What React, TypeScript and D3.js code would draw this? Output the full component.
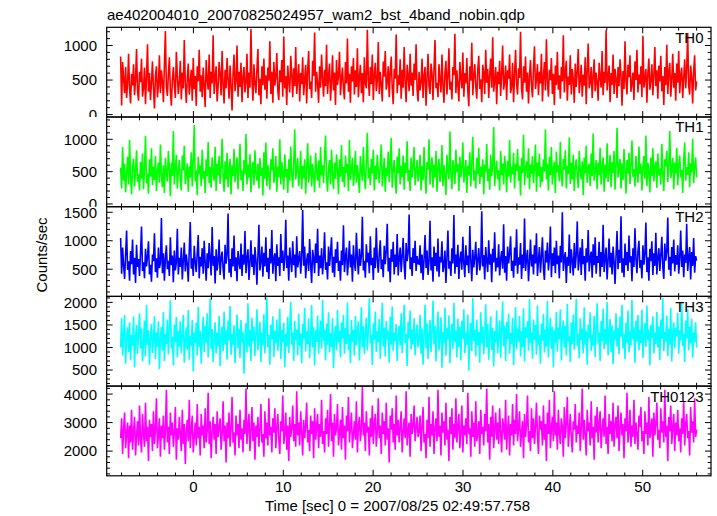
import React from "react";
import * as d3 from "d3";

const TITLE = "ae402004010_20070825024957_wam2_bst_4band_nobin.qdp";
const X_LABEL = "Time [sec] 0 = 2007/08/25 02:49:57.758";
const Y_LABEL = "Counts/sec";

// time bins (sec) of the light curves
const BIN_START = -8.1;
const BIN_WIDTH = 0.11071;

const X_MAJOR_TICKS = [0, 10, 20, 30, 40, 50];

const TH0 = [
  840, 130, 760, 520, 310, 690, 240, 450, 880, 370, 160, 590, 420, 730, 280, 510, 950, 340, 200, 620,
  470, 810, 260, 390, 680, 150, 540, 1020, 330, 600, 210, 460, 770, 380, 90, 560, 700, 250, 430, 860,
  310, 640, 480, 180, 720, 1210, 400, 270, 590, 830, 350, 130, 500, 690, 420, 240, 910, 560, 300, 470,
  780, 220, 610, 380, 1080, 450, 170, 530, 740, 290, 460, 650, 200, 820, 370, 560, 130, 700, 480, 940,
  330, 570, 250, 680, 420, 110, 790, 510, 360, 870, 240, 620, 450, 1150, 300, 530, 700, 190, 410, 760,
  580, 280, 920, 440, 160, 650, 380, 820, 500, 230, 710, 430, 60, 590, 870, 340, 480, 1000, 260, 620,
  400, 750, 180, 550, 690, 320, 470, 880, 240, 610, 390, 1240, 510, 200, 730, 450, 310, 660, 950, 280,
  520, 150, 700, 430, 810, 360, 570, 230, 680, 490, 1060, 300, 620, 170, 760, 420, 540, 890, 350, 210,
  640, 470, 790, 260, 1130, 380, 560, 140, 710, 480, 320, 850, 590, 250, 670, 410, 980, 300, 520, 730,
  190, 600, 440, 830, 280, 510, 720, 160, 640, 920, 370, 480, 240, 780, 560, 1190, 330, 620, 450, 170,
  700, 390, 870, 520, 260, 650, 410, 1010, 300, 560, 740, 200, 480, 860, 350, 610, 140, 790, 430, 560,
  910, 280, 510, 680, 370, 220, 760, 450, 1100, 330, 590, 170, 700, 480, 820, 290, 640, 400, 960, 250,
  540, 720, 310, 600, 180, 830, 460, 380, 1230, 520, 270, 690, 440, 870, 210, 580, 750, 340, 490, 1050,
  300, 620, 430, 190, 770, 550, 920, 360, 480, 700, 250, 610, 840, 390, 150, 660, 520, 1160, 310, 570,
  430, 800, 230, 650, 390, 980, 470, 180, 720, 560, 340, 880, 420, 610, 270, 740, 500, 1020, 360, 190,
  620, 350, 470, 810, 240, 560, 690, 130, 520, 880, 410, 300, 740, 590, 210, 660, 1080, 380, 460, 250,
  730, 500, 320, 870, 440, 170, 610, 780, 290, 540, 960, 360, 480, 220, 690, 570, 1170, 310, 640, 420,
  190, 760, 530, 380, 900, 260, 600, 450, 820, 340, 120, 700, 490, 1040, 280, 560, 730, 410, 230, 650,
  850, 370, 510, 180, 720, 600, 300, 940, 460, 660, 240, 570, 810, 390, 1120, 330, 500, 690, 150, 620,
  440, 780, 270, 590, 1000, 360, 480, 710, 210, 640, 520, 870, 310, 400, 750, 180, 580, 940, 450, 290,
  670, 530, 1200, 380, 220, 700, 460, 840, 330, 610, 160, 560, 790, 420, 250, 680, 990, 370, 510, 730,
  280, 620, 450, 880, 190, 540, 760, 350, 1090, 470, 260, 650, 500, 820, 300, 590, 140, 710, 430, 910,
  360, 570, 230, 690, 480, 1150, 320, 610, 780, 200, 550, 430, 860, 290, 660, 510, 170, 740, 400, 620,
  950, 310, 500, 720, 260, 580, 420, 830, 150, 640, 1030, 380, 470, 690, 240, 560, 800, 340, 610, 470,
  200, 750, 530, 390, 920, 280, 620, 460, 1220, 350, 540, 710, 180, 600, 430, 870, 300, 660, 520, 240,
  690, 410, 800, 560, 130, 630, 370, 1060, 480, 290, 720, 540, 860, 330, 450, 610, 210, 770, 500, 940,
  320, 580, 440, 700, 250, 1140, 390, 520, 660, 170, 600, 810, 360, 490, 730, 280, 570, 980, 410, 640,
  230, 710, 480, 850, 340, 560, 140, 690, 430, 1010, 300, 620, 750, 260, 510, 880, 390, 600, 200, 740,
  460, 920, 310, 570, 680, 240, 530, 800, 380, 650, 1180, 420, 290, 710, 550, 160, 630, 860, 350, 480,
];

const TH1 = [
  560, 240, 880, 360, 620, 180, 470, 730, 300, 990, 410, 150, 590, 700, 270, 520, 830, 340, 460, 210,
  650, 390, 780, 230, 540, 1050, 320, 470, 160, 690, 420, 860, 290, 580, 370, 740, 200, 510, 640, 330,
  920, 450, 260, 600, 170, 710, 480, 350, 820, 560, 120, 640, 430, 1130, 300, 560, 760, 240, 490, 680,
  380, 210, 750, 520, 900, 310, 460, 630, 190, 580, 410, 800, 270, 670, 1220, 350, 520, 140, 730, 460,
  600, 280, 840, 390, 510, 170, 690, 430, 960, 320, 570, 250, 720, 480, 360, 880, 200, 620, 450, 740,
  310, 550, 1010, 420, 190, 660, 380, 790, 260, 530, 700, 150, 600, 430, 850, 340, 490, 720, 230, 580,
  930, 370, 520, 200, 680, 460, 1080, 300, 610, 410, 770, 180, 540, 650, 290, 830, 470, 360, 620, 240,
  710, 440, 560, 130, 800, 390, 950, 280, 600, 470, 220, 690, 520, 860, 330, 450, 740, 190, 580, 410,
  1000, 300, 650, 480, 220, 770, 420, 540, 170, 690, 360, 890, 460, 250, 620, 1150, 380, 530, 710, 280,
  470, 820, 230, 590, 400, 690, 160, 560, 940, 330, 480, 750, 270, 620, 440, 180, 790, 510, 360, 670,
  250, 880, 440, 600, 320, 730, 1060, 410, 190, 560, 680, 300, 840, 470, 230, 640, 390, 770, 520, 150,
  690, 420, 910, 340, 570, 260, 750, 480, 620, 200, 990, 370, 530, 710, 280, 460, 820, 330, 600, 420,
  170, 740, 520, 360, 880, 450, 230, 650, 1100, 400, 560, 290, 700, 470, 840, 210, 590, 380, 760, 500,
  320, 630, 920, 270, 480, 710, 190, 560, 430, 810, 340, 650, 1020, 250, 520, 680, 380, 160, 730, 470,
  860, 300, 590, 420, 750, 220, 640, 480, 970, 350, 530, 200, 720, 410, 610, 880, 290, 500, 680, 350,
  480, 760, 210, 590, 370, 880, 440, 160, 650, 530, 1000, 300, 560, 720, 250, 610, 410, 820, 190, 540,
  700, 340, 470, 910, 280, 600, 430, 140, 760, 520, 380, 1120, 460, 230, 680, 570, 310, 840, 490, 620,
  200, 730, 410, 560, 950, 330, 500, 680, 170, 590, 440, 800, 270, 640, 1040, 360, 520, 240, 710, 460,
  870, 310, 580, 420, 690, 150, 610, 490, 930, 350, 550, 220, 760, 430, 600, 1190, 280, 530, 670, 380,
  520, 210, 820, 450, 630, 300, 740, 560, 180, 670, 420, 990, 330, 580, 460, 790, 240, 620, 510, 850,
  360, 590, 130, 710, 480, 1070, 290, 540, 660, 400, 860, 230, 610, 470, 740, 320, 560, 920, 190, 640,
  430, 780, 260, 570, 340, 690, 500, 1150, 380, 620, 210, 730, 450, 880, 300, 550, 650, 170, 810, 490,
  600, 350, 960, 420, 270, 700, 530, 830, 240, 590, 460, 1030, 310, 640, 380, 760, 200, 570, 690, 440,
  250, 820, 510, 380, 660, 140, 720, 470, 900, 330, 560, 620, 280, 780, 430, 1090, 360, 510, 680, 230,
  640, 450, 870, 300, 580, 720, 190, 610, 400, 940, 340, 530, 760, 260, 650, 480, 820, 220, 590, 1180,
  410, 560, 700, 240, 630, 370, 850, 520, 160, 680, 470, 790, 310, 600, 980, 420, 540, 270, 740, 500,
  330, 890, 460, 620, 210, 570, 740, 390, 1060, 280, 640, 500, 180, 720, 430, 860, 350, 590, 660, 250,
  780, 440, 550, 300, 930, 480, 200, 690, 580, 820, 340, 610, 1130, 400, 520, 710, 230, 640, 470, 870,
  290, 600, 750, 410, 530, 170, 680, 950, 360, 570, 450, 800, 260, 630, 490, 1010, 320, 580, 720, 410,
];

const TH2 = [
  1050, 420, 880, 560, 330, 760, 1180, 490, 640, 300, 820, 590, 1020, 410, 700, 260, 930, 540, 680, 380,
  790, 1250, 470, 620, 340, 860, 550, 720, 990, 410, 580, 280, 760, 640, 1130, 450, 690, 350, 880, 520,
  610, 1400, 430, 780, 300, 690, 920, 500, 650, 380, 1060, 570, 740, 270, 830, 480, 620, 1210, 410, 700,
  540, 880, 320, 650, 970, 460, 760, 590, 280, 840, 1330, 510, 690, 380, 910, 620, 450, 780, 1100, 340,
  720, 550, 870, 420, 1000, 610, 300, 780, 520, 960, 670, 390, 1240, 560, 730, 250, 850, 480, 640, 1020,
  400, 690, 810, 510, 320, 930, 600, 750, 1480, 440, 680, 360, 870, 550, 1090, 470, 710, 290, 820, 620,
  500, 950, 380, 760, 580, 1170, 430, 690, 850, 310, 620, 1010, 540, 760, 400, 890, 660, 230, 730, 1280,
  480, 640, 900, 370, 790, 550, 1060, 450, 700, 330, 860, 600, 1190, 420, 670, 780, 290, 940, 560, 710,
  380, 1120, 610, 830, 470, 690, 1370, 520, 740, 300, 880, 640, 450, 990, 570, 760, 350, 1080, 530, 680,
  820, 420, 710, 1540, 560, 900, 340, 650, 780, 470, 1030, 590, 260, 840, 700, 430, 950, 610, 1210, 380,
  740, 520, 870, 410, 680, 1150, 490, 620, 320, 900, 560, 790, 1060, 440, 720, 360, 850, 610, 980, 470,
  650, 300, 830, 570, 1270, 450, 710, 880, 390, 640, 1000, 530, 760, 280, 920, 600, 470, 1140, 690, 410,
  860, 560, 730, 1420, 480, 650, 350, 940, 620, 790, 430, 1080, 570, 700, 310, 880, 520, 1230, 660, 440,
  780, 1010, 500, 670, 360, 910, 590, 820, 1300, 460, 700, 270, 850, 630, 980, 410, 760, 540, 1120, 390,
  690, 880, 450, 730, 1050, 560, 320, 960, 640, 790, 1460, 500, 710, 380, 870, 610, 1000, 470, 730, 600,
  590, 920, 430, 760, 310, 680, 1100, 520, 830, 400, 640, 1350, 480, 710, 280, 900, 560, 790, 460, 1040,
  370, 720, 620, 990, 450, 560, 830, 260, 700, 1180, 510, 640, 380, 870, 600, 1450, 420, 760, 540, 930,
  330, 680, 810, 490, 1070, 600, 360, 920, 570, 740, 430, 1260, 650, 290, 840, 530, 710, 980, 400, 660,
  870, 480, 620, 1520, 550, 750, 320, 890, 640, 450, 1010, 580, 770, 270, 860, 620, 1150, 460, 700, 530,
  940, 390, 680, 820, 510, 1290, 440, 730, 300, 900, 600, 780, 1080, 470, 650, 350, 880, 560, 1200, 420,
  710, 580, 960, 330, 760, 520, 1390, 470, 690, 840, 290, 630, 1020, 550, 760, 410, 920, 600, 1130, 380,
  650, 890, 440, 720, 1060, 510, 310, 830, 620, 970, 480, 700, 1250, 360, 780, 560, 880, 430, 1000, 590,
  740, 340, 910, 620, 1500, 470, 680, 800, 260, 720, 560, 1110, 430, 850, 640, 390, 960, 520, 760, 1340,
  480, 670, 880, 400, 1030, 590, 730, 300, 870, 620, 1190, 460, 690, 810, 350, 940, 570, 1060, 420, 730,
  610, 980, 370, 800, 540, 1280, 450, 700, 880, 320, 660, 1040, 530, 790, 410, 900, 630, 240, 750, 1170,
  500, 840, 610, 1430, 440, 690, 360, 950, 570, 800, 470, 1090, 620, 730, 290, 870, 540, 1220, 680, 430,
  810, 1000, 520, 660, 340, 920, 580, 760, 1320, 450, 710, 300, 860, 640, 990, 400, 780, 560, 1140, 410,
  700, 870, 470, 740, 1070, 530, 330, 950, 650, 810, 1410, 490, 720, 380, 890, 600, 1020, 460, 750, 580,
  920, 420, 690, 1180, 540, 830, 360, 760, 610, 1300, 470, 700, 890, 320, 800, 560, 1050, 440, 730, 650,
];

const TH3 = [
  1000, 1650, 820, 1300, 1720, 640, 1180, 1450, 900, 1560, 720, 1280, 1040, 1690, 560, 1220, 1500, 860, 1350, 1760,
  980, 1420, 690, 1130, 1600, 800, 1940, 1060, 1380, 620, 1250, 1520, 880, 1170, 1700, 740, 1330, 1010, 1580, 520,
  1210, 1460, 930, 1790, 700, 1300, 1080, 1620, 850, 1400, 2050, 970, 1240, 600, 1510, 1120, 1680, 780, 1360, 1020,
  1580, 880, 1290, 1720, 660, 1180, 1450, 950, 1830, 730, 1260, 1040, 1610, 470, 1340, 1100, 1550, 820, 1900, 1010,
  1370, 640, 1220, 1680, 900, 1480, 1110, 1760, 780, 1290, 2080, 960, 1410, 680, 1190, 1560, 870, 1330, 1030, 1700,
  590, 1250, 1470, 920, 1800, 1070, 1380, 730, 1600, 1150, 1920, 840, 1300, 1060, 1490, 650, 1270, 1730, 990, 1420,
  760, 1610, 1110, 1350, 420, 1230, 1540, 890, 1980, 1020, 1390, 700, 1660, 1140, 1460, 810, 1310, 1850, 940, 1200,
  1570, 680, 1340, 1050, 1740, 870, 1430, 2110, 1000, 1280, 620, 1500, 1180, 1690, 790, 1370, 1090, 1620, 930, 1250,
  1860, 740, 1390, 1120, 1550, 560, 1300, 1020, 1680, 880, 1470, 2010, 1060, 1330, 700, 1590, 1160, 1400, 830, 1750,
  1040, 1310, 650, 1520, 1200, 1880, 910, 1360, 1080, 1640, 760, 1250, 1940, 1000, 1450, 600, 1380, 1120, 1710, 860,
  1290, 1600, 970, 2060, 1150, 1400, 720, 1530, 1060, 1780, 890, 1320, 1010, 1650, 540, 1260, 1480, 940, 1830, 1110,
  1370, 780, 1560, 1200, 1720, 860, 1430, 1080, 2000, 950, 1290, 650, 1610, 1130, 1390, 820, 1700, 1050, 1340, 1580,
  710, 1240, 1890, 1000, 1470, 860, 1320, 1660, 940, 1410, 2090, 1090, 1280, 610, 1540, 1170, 1800, 900, 1360, 1120,
  1630, 750, 1300, 1990, 1020, 1450, 800, 1590, 1180, 1370, 660, 1690, 1060, 1910, 930, 1330, 1140, 1520, 700, 1270,
  1480, 1040, 1760, 880, 1360, 1950, 1100, 1300, 590, 1570, 1210, 1820, 960, 1400, 1070, 1650, 830, 1290, 1510, 1000,
  1150, 1720, 860, 1420, 620, 1300, 1950, 980, 1540, 740, 1260, 1610, 900, 1380, 2040, 1070, 1480, 690, 1320, 1800,
  940, 1230, 1670, 550, 1350, 1090, 1880, 820, 1440, 1180, 1710, 650, 1290, 1520, 960, 1990, 1120, 1370, 780, 1640,
  1010, 1460, 720, 1590, 1200, 1850, 880, 1330, 1060, 1730, 490, 1280, 1550, 920, 2100, 1140, 1400, 800, 1620, 1050,
  1350, 660, 1780, 1090, 1470, 850, 1310, 1960, 1000, 1520, 730, 1240, 1690, 940, 1430, 580, 1370, 1110, 1820, 870,
  1260, 1600, 770, 1390, 2020, 1030, 1480, 700, 1570, 1190, 1750, 860, 1320, 1080, 1660, 610, 1290, 1900, 960, 1420,
  1130, 1700, 800, 1360, 1010, 1870, 690, 1450, 1220, 1580, 930, 2070, 1100, 1340, 750, 1620, 1170, 1500, 840, 1930,
  1060, 1280, 640, 1530, 1150, 1740, 890, 1400, 1020, 2030, 780, 1310, 1660, 970, 1460, 560, 1380, 1090, 1790, 910,
  1440, 1190, 1850, 710, 1330, 1600, 1000, 1480, 820, 1970, 1120, 1250, 680, 1560, 1080, 1730, 950, 1350, 2080, 1040,
  1300, 760, 1650, 1170, 1420, 870, 1890, 1060, 1370, 620, 1510, 1200, 1780, 930, 1290, 1040, 1700, 790, 1460, 1980,
  1090, 1340, 700, 1590, 1140, 1860, 960, 1410, 1070, 2010, 830, 1320, 1630, 900, 1490, 630, 1380, 1160, 1760, 1020,
  1430, 850, 1680, 1240, 1950, 980, 1300, 740, 1550, 1110, 1820, 890, 1360, 1050, 2060, 1180, 1450, 660, 1600, 1130,
  1720, 940, 1390, 1100, 1840, 770, 1280, 1540, 1010, 1930, 1160, 1400, 600, 1500, 1220, 1690, 870, 1330, 1080, 1790,
  1000, 1470, 720, 1620, 1190, 2090, 920, 1350, 1130, 1710, 810, 1420, 1060, 1880, 690, 1300, 1560, 990, 1440, 1250,
  1770, 860, 1380, 1150, 1990, 1030, 1310, 680, 1600, 1200, 1850, 940, 1460, 1090, 1640, 770, 1340, 1120, 1560, 1000,
];

const TH0123 = [
  2450, 3150, 1900, 2800, 3350, 2100, 2650, 3000, 1750, 2900, 2300, 3450, 2050, 2700, 3200, 1850, 2550, 3050, 2200, 3600,
  2400, 1950, 3300, 2600, 2150, 3700, 2350, 2850, 1650, 3100, 2500, 2950, 2000, 3400, 2250, 2750, 3850, 2100, 2600, 3150,
  1800, 2900, 2450, 3250, 2050, 2700, 4150, 2300, 2850, 1900, 3350, 2550, 3000, 2150, 2650, 3550, 1700, 2800, 2400, 3200,
  2600, 2000, 3450, 2250, 2950, 1550, 2700, 3100, 2350, 3800, 2100, 2750, 3250, 1950, 2500, 3000, 2200, 3650, 2450, 2850,
  1850, 3300, 2550, 2900, 2100, 3500, 2300, 2700, 4050, 2250, 3050, 1750, 2650, 3200, 2400, 2950, 1900, 3400, 2500, 2800,
  3150, 2050, 2600, 3750, 2350, 2900, 1600, 3000, 2450, 3350, 2150, 2750, 3900, 2300, 2650, 1850, 3250, 2550, 2950, 2100,
  3450, 2400, 2800, 1950, 3100, 2600, 4200, 2250, 2850, 3300, 2000, 2700, 3550, 2350, 3000, 1700, 2900, 2500, 3200, 2150,
  2750, 3650, 2300, 2600, 1800, 3400, 2450, 3000, 2200, 3850, 2550, 2850, 1950, 3150, 2650, 3500, 2100, 2800, 3300, 2400,
  1900, 3050, 2700, 3950, 2250, 2600, 3350, 2050, 2900, 1650, 3200, 2500, 2800, 3600, 2350, 2950, 2150, 4100, 2550, 3000,
  2200, 3400, 2650, 1850, 3100, 2450, 2900, 3700, 2300, 2750, 2000, 3250, 2600, 3050, 1750, 3500, 2400, 2850, 3300, 2100,
  2950, 2500, 3800, 2250, 2700, 1950, 3150, 2600, 3450, 2150, 2850, 4000, 2350, 3000, 1800, 3300, 2550, 2800, 3650, 2200,
  2650, 3100, 2050, 3550, 2450, 2900, 1700, 3250, 2700, 3900, 2300, 2800, 3350, 2100, 2600, 3050, 2400, 3750, 1950, 2900,
  3200, 2350, 2750, 4250, 2550, 3000, 2000, 3400, 2650, 2850, 1850, 3150, 2500, 3600, 2250, 2950, 3300, 2150, 2700, 3850,
  2450, 2900, 1900, 3350, 2600, 3050, 2200, 3700, 2400, 2800, 1600, 3250, 2750, 3500, 2300, 2950, 2050, 3950, 2550, 3100,
  2300, 2850, 3400, 1950, 2650, 3150, 2450, 4100, 2200, 2750, 3000, 1800, 3300, 2600, 2900, 3600, 2350, 2800, 3200, 2500,
  2700, 3250, 2000, 2850, 3550, 2300, 2600, 1750, 3100, 2450, 3900, 2150, 2950, 2550, 3400, 1900, 2800, 3150, 2350, 4150,
  2500, 2900, 1850, 3350, 2650, 3050, 2200, 3700, 2400, 2750, 1650, 3200, 2600, 3500, 2050, 2950, 2450, 3850, 2300, 2850,
  3300, 2100, 2700, 3600, 1950, 2900, 2550, 3150, 2250, 4050, 2600, 2800, 1800, 3400, 2500, 3000, 2150, 3750, 2350, 2650,
  3050, 1900, 3450, 2600, 2850, 2200, 3300, 2700, 4200, 2300, 2950, 1700, 3200, 2500, 3600, 2100, 2800, 3350, 2400, 3000,
  2250, 3500, 2650, 1950, 3150, 2850, 2400, 3800, 2050, 2750, 3250, 1850, 2950, 2550, 3650, 2200, 3100, 2600, 4000, 2350,
  2800, 3400, 2150, 2650, 3050, 1750, 3300, 2500, 2900, 3950, 2300, 2700, 2000, 3500, 2450, 3150, 2250, 2850, 3700, 2550,
  1900, 3250, 2750, 3050, 2200, 3600, 2400, 2950, 1650, 3350, 2600, 3800, 2100, 2800, 3200, 2350, 4100, 2550, 3000, 2050,
  3450, 2650, 2250, 3150, 2850, 1800, 3550, 2450, 2950, 3900, 2150, 2700, 3300, 2500, 1950, 3050, 2750, 3650, 2300, 2900,
  2600, 3350, 2000, 2800, 4200, 2400, 3100, 2550, 1850, 3450, 2700, 3000, 2200, 3750, 2450, 2850, 1700, 3250, 2650, 3550,
  2300, 2950, 3400, 2100, 2750, 3150, 2500, 3950, 2250, 2850, 1900, 3300, 2600, 3050, 2350, 3700, 2150, 2900, 3200, 2450,
  3600, 2000, 2800, 3350, 2550, 2950, 1750, 3150, 2700, 4050, 2300, 2650, 3450, 2150, 2900, 2500, 3800, 2250, 3000, 2600,
  2050, 3250, 2850, 3550, 2350, 2700, 1900, 3400, 2600, 3000, 2200, 3900, 2450, 2800, 3150, 1800, 3350, 2550, 2950, 3700,
  2400, 2750, 2100, 3500, 2650, 3050, 2300, 4150, 2500, 2900, 1650, 3200, 2700, 3600, 2250, 2850, 3300, 2000, 3000, 2550,
  3450, 2350, 2800, 1950, 3150, 2600, 3750, 2200, 2950, 3300, 2450, 2700, 1850, 3550, 2650, 3050, 2300, 3850, 2500, 2750,
];

const SERIES_NAMES = ["TH0", "TH1", "TH2", "TH3", "TH0123"];
const SERIES_VALUES = [TH0, TH1, TH2, TH3, TH0123];
const Y_MAJOR_TICKS = [
  [0, 500, 1000],
  [0, 500, 1000],
  [500, 1000, 1500],
  [500, 1000, 1500, 2000],
  [2000, 3000, 4000],
];

export default function App() {
  const W = 717;
  const H = 516;
  const left = 106.7;
  const right = 711;
  const top0 = 27.3;
  const ph = 89.7;
  const colors = ["#ff0000", "#00ff00", "#0000ff", "#00ffff", "#ff00ff"];
  const domains: [number, number][] = [
    [-35, 1264],
    [-42, 1345],
    [23, 1598],
    [143, 2134],
    [1133, 4281],
  ];
  const minorSteps = [100, 100, 100, 100, 200];
  const font = "'Liberation Sans', Arial, Helvetica, sans-serif";

  const x = d3.scaleLinear().domain([-9.65, 57.6]).range([left, right]);
  const xMinor = d3.range(-8, 57.6, 2).filter((v) => !X_MAJOR_TICKS.includes(v));

  const panels = SERIES_VALUES.map((vals, i) => {
    const y0 = top0 + i * ph;
    const y1 = y0 + ph;
    const y = d3.scaleLinear().domain(domains[i]).range([y1, y0]);
    const pts: [number, number][] = vals.map((v, j) => [BIN_START + j * BIN_WIDTH, v]);
    const line = d3
      .line<[number, number]>()
      .x((d) => x(d[0]))
      .y((d) => y(d[1]));
    const step = minorSteps[i];
    const yMinor = d3
      .range(Math.ceil(domains[i][0] / step) * step, domains[i][1], step)
      .filter((v) => !Y_MAJOR_TICKS[i].includes(v));
    return { i, y0, y1, y, d: line(pts) || "", yMinor };
  });

  const majorLen = 6;
  const minorLen = 3.3;

  return (
    <svg
      width={W}
      height={H}
      style={{ position: "absolute", left: 0, top: 0, background: "#fff" }}
      fontFamily={font}
    >
      <rect x={0} y={0} width={W} height={H} fill="#fff" />
      <defs>
        {panels.map((p) => (
          <React.Fragment key={p.i}>
            <clipPath id={`plot-clip-${p.i}`}>
              <rect x={left} y={p.y0} width={right - left} height={ph} />
            </clipPath>
            <clipPath id={`label-clip-${p.i}`}>
              <rect x={0} y={p.y0} width={left} height={ph} />
            </clipPath>
          </React.Fragment>
        ))}
      </defs>

      <text x={107} y={19.5} fontSize={15} fill="#000">
        {TITLE}
      </text>

      {panels.map((p) => (
        <g key={p.i}>
          <path
            d={p.d}
            fill="none"
            stroke={colors[p.i]}
            strokeWidth={1.6}
            strokeLinejoin="miter"
            strokeMiterlimit={3}
            clipPath={`url(#plot-clip-${p.i})`}
          />
          {/* x ticks top & bottom */}
          {X_MAJOR_TICKS.map((t) => (
            <g key={`xM${t}`} stroke="#000" strokeWidth={1}>
              <line x1={x(t)} x2={x(t)} y1={p.y1} y2={p.y1 - majorLen} />
              <line x1={x(t)} x2={x(t)} y1={p.y0} y2={p.y0 + majorLen} />
            </g>
          ))}
          {xMinor.map((t) => (
            <g key={`xm${t}`} stroke="#000" strokeWidth={1}>
              <line x1={x(t)} x2={x(t)} y1={p.y1} y2={p.y1 - minorLen} />
              <line x1={x(t)} x2={x(t)} y1={p.y0} y2={p.y0 + minorLen} />
            </g>
          ))}
          {/* y ticks left & right */}
          {Y_MAJOR_TICKS[p.i].map((t) => (
            <g key={`yM${t}`} stroke="#000" strokeWidth={1}>
              <line x1={left} x2={left + majorLen} y1={p.y(t)} y2={p.y(t)} />
              <line x1={right} x2={right - majorLen} y1={p.y(t)} y2={p.y(t)} />
            </g>
          ))}
          {p.yMinor.map((t) => (
            <g key={`ym${t}`} stroke="#000" strokeWidth={1}>
              <line x1={left} x2={left + minorLen} y1={p.y(t)} y2={p.y(t)} />
              <line x1={right} x2={right - minorLen} y1={p.y(t)} y2={p.y(t)} />
            </g>
          ))}
          <g clipPath={`url(#label-clip-${p.i})`}>
            {Y_MAJOR_TICKS[p.i].map((t) => (
              <text
                key={`yl${t}`}
                x={97}
                y={p.y(t)}
                dy="0.36em"
                textAnchor="end"
                fontSize={15}
                fill="#000"
              >
                {t}
              </text>
            ))}
          </g>
          <rect
            x={left}
            y={p.y0}
            width={right - left}
            height={ph}
            fill="none"
            stroke="#000"
            strokeWidth={1.2}
          />
          <text x={703.5} y={p.y0 + 15.4} textAnchor="end" fontSize={15} fill="#000">
            {SERIES_NAMES[p.i]}
          </text>
        </g>
      ))}

      {X_MAJOR_TICKS.map((t) => (
        <text key={`xl${t}`} x={x(t)} y={491.5} textAnchor="middle" fontSize={15} fill="#000">
          {t}
        </text>
      ))}

      <text x={397.5} y={510.5} textAnchor="middle" fontSize={15} fill="#000">
        {X_LABEL}
      </text>

      <text
        transform={`translate(46.5,255) rotate(-90)`}
        textAnchor="middle"
        fontSize={15}
        fill="#000"
      >
        {Y_LABEL}
      </text>
    </svg>
  );
}
